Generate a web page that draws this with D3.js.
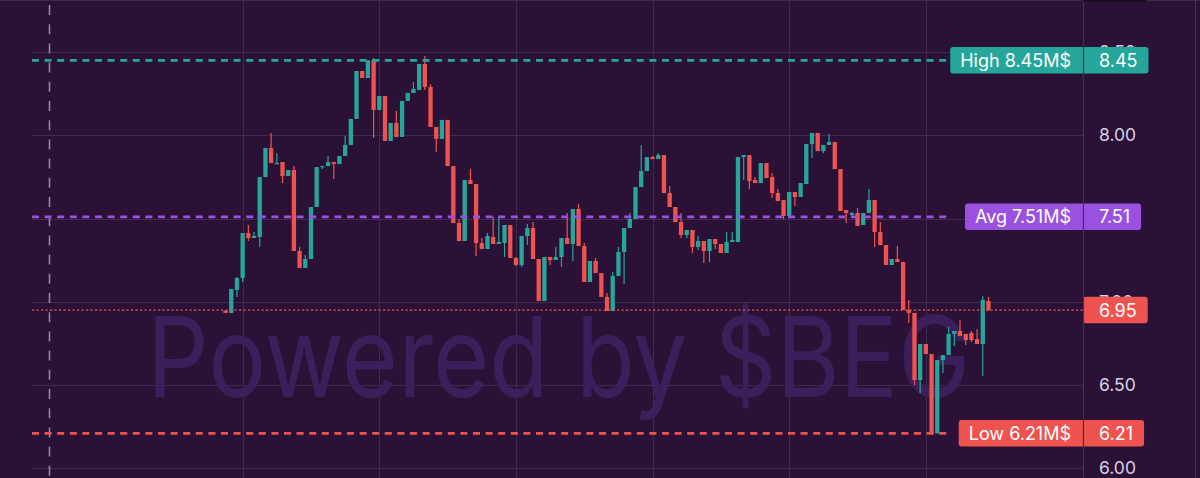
<!DOCTYPE html>
<html><head><meta charset="utf-8">
<script src="https://cdn.jsdelivr.net/npm/d3@7"></script>
<style>html,body{margin:0;padding:0;background:#2b1136;overflow:hidden}svg{display:block}</style>
</head><body>
<svg id="c" width="1200" height="478"></svg>
<script>
// ---- DATA ----
const opens = [6.945,6.933,7.071,7.143,7.413,7.383,7.389,7.749,7.923,7.827,
7.839,7.755,7.791,7.305,7.203,7.257,7.569,7.809,7.815,7.839,
7.827,7.875,7.942,8.098,8.386,8.344,8.45,8.152,8.236,7.966,
8.074,7.990,8.206,8.254,8.272,8.428,8.290,8.050,7.978,8.092,
7.815,7.473,7.365,7.731,7.707,7.353,7.317,7.389,7.347,7.353,
7.461,7.263,7.221,7.395,7.443,7.257,7.005,7.269,7.251,7.269,
7.383,7.347,7.557,7.335,7.119,7.245,7.173,7.029,6.945,7.155,
7.299,7.443,7.497,7.689,7.785,7.869,7.857,7.881,7.653,7.569,
7.479,7.401,7.431,7.329,7.365,7.305,7.377,7.347,7.293,7.359,
7.359,7.869,7.881,7.731,7.713,7.833,7.749,7.653,7.611,7.515,
7.659,7.629,7.707,7.948,8.014,7.905,7.942,7.960,7.797,7.551,
7.521,7.533,7.461,7.533,7.611,7.419,7.341,7.221,7.257,7.239,
6.951,6.933,6.530,6.746,6.686,6.21,6.650,6.680,6.807,6.825,
6.807,6.813,6.776,6.746,7.005];
const closes = [6.933,7.077,7.143,7.413,7.383,7.395,7.749,7.923,7.833,7.833,
7.755,7.791,7.305,7.203,7.257,7.569,7.809,7.815,7.839,7.827,
7.875,7.942,8.098,8.386,8.344,8.45,8.152,8.236,7.966,8.074,
7.990,8.206,8.254,8.278,8.428,8.290,8.050,7.978,8.092,7.815,
7.473,7.365,7.731,7.707,7.353,7.317,7.395,7.347,7.359,7.461,
7.263,7.221,7.395,7.443,7.257,7.005,7.269,7.251,7.269,7.383,
7.347,7.557,7.335,7.119,7.245,7.173,7.029,6.945,7.155,7.299,
7.443,7.497,7.689,7.785,7.869,7.857,7.881,7.653,7.569,7.479,
7.401,7.431,7.329,7.365,7.305,7.377,7.347,7.293,7.359,7.371,
7.869,7.881,7.725,7.713,7.833,7.743,7.653,7.605,7.515,7.659,
7.629,7.713,7.948,8.014,7.905,7.942,7.960,7.797,7.545,7.533,
7.533,7.455,7.533,7.611,7.419,7.341,7.221,7.257,7.239,6.951,
6.933,6.530,6.746,6.686,6.21,6.650,6.680,6.807,6.825,6.794,
6.770,6.770,6.746,7.011,6.95];
const highs = [6.951,7.077,7.149,7.413,7.461,7.419,7.749,7.923,8.014,7.893,
7.839,7.791,7.815,7.329,7.281,7.569,7.809,7.815,7.875,7.839,
7.875,7.996,8.098,8.386,8.386,8.45,8.464,8.236,8.236,8.074,
8.146,8.206,8.254,8.320,8.428,8.476,8.308,8.050,8.092,8.092,
7.815,7.497,7.731,7.797,7.707,7.383,7.413,7.509,7.509,7.461,
7.461,7.269,7.395,7.467,7.479,7.257,7.269,7.269,7.329,7.383,
7.533,7.557,7.587,7.353,7.245,7.263,7.173,7.053,7.179,7.329,
7.443,7.533,7.689,7.942,7.869,7.875,7.893,7.881,7.695,7.569,
7.533,7.431,7.431,7.395,7.365,7.377,7.377,7.347,7.419,7.419,
7.869,7.881,7.881,7.749,7.833,7.833,7.773,7.677,7.611,7.659,
7.659,7.713,7.948,8.014,8.014,7.942,8.008,7.960,7.797,7.551,
7.539,7.563,7.533,7.677,7.611,7.479,7.341,7.257,7.335,7.239,
7.011,6.933,6.746,6.746,6.686,6.650,6.680,6.849,6.825,6.891,
6.807,6.825,6.837,7.035,7.029];
const lows = [6.933,6.933,7.029,7.119,7.365,7.383,7.329,7.749,7.833,7.827,
7.713,7.755,7.305,7.203,7.203,7.257,7.569,7.797,7.815,7.737,
7.827,7.875,7.942,8.098,8.344,8.344,7.984,8.152,7.966,7.966,
7.990,7.990,8.206,8.254,8.272,8.272,8.050,7.899,7.978,7.815,
7.473,7.365,7.365,7.707,7.275,7.317,7.317,7.347,7.347,7.269,
7.263,7.215,7.209,7.341,7.257,7.005,7.005,7.221,7.251,7.209,
7.347,7.245,7.335,7.119,7.119,7.173,7.029,6.945,6.945,7.155,
7.107,7.443,7.497,7.689,7.785,7.857,7.857,7.653,7.569,7.479,
7.383,7.383,7.293,7.311,7.233,7.239,7.317,7.293,7.293,7.359,
7.359,7.731,7.677,7.713,7.713,7.743,7.623,7.605,7.497,7.515,
7.575,7.629,7.707,7.863,7.905,7.893,7.942,7.797,7.545,7.473,
7.515,7.455,7.461,7.533,7.329,7.341,7.221,7.221,7.239,6.951,
6.873,6.500,6.452,6.686,6.21,6.21,6.572,6.680,6.734,6.794,
6.740,6.758,6.746,6.554,6.945];
const yTicks = [6.00, 6.50, 7.00, 7.50, 8.00, 8.50];
const levels = [
  {name: "High", value: 8.45, color: "#26a69a"},
  {name: "Avg",  value: 7.51, color: "#9b51e0"},
  {name: "Low",  value: 6.21, color: "#ef5350"}
];
const lastPrice = 6.95;
const unit = "M$";
const watermark = "Powered by $BEG";

// ---- STYLE ----
const W = 1200, H = 478;
const plotL = 32, plotR = 1083;
const UP = "#26a69a", DOWN = "#ef5350";
const BG = "#2b1136", GRID = "#3e2a50";
const FONT = "Inter, 'Noto Sans', sans-serif";

const svg = d3.select("#c");
const n = opens.length;
const candles = d3.range(n).map(i => ({i, o: opens[i], c: closes[i], h: highs[i], l: lows[i]}));

const y = d3.scaleLinear().domain([6.0, 8.5]).range([468.3, 52]);
const x = d3.scaleLinear().domain([-34, 150.6]).range([plotL, plotR]);
const bodyW = 4.3;

svg.append("rect").attr("width", W).attr("height", H).attr("fill", BG);
svg.append("line").attr("x1", 0).attr("x2", W).attr("y1", 0.5).attr("y2", 0.5).attr("stroke", "#3a2848");

// grid
const g = svg.append("g");
g.selectAll(".hg").data(yTicks).join("line")
  .attr("x1", plotL).attr("x2", plotR)
  .attr("y1", d => Math.round(y(d)) + 0.5).attr("y2", d => Math.round(y(d)) + 0.5)
  .attr("stroke", GRID).attr("stroke-width", 1);
const vIdx = d3.range(3, 140, 24);
g.selectAll(".vg").data(vIdx).join("line")
  .attr("x1", d => Math.round(x(d)) + 0.5).attr("x2", d => Math.round(x(d)) + 0.5)
  .attr("y1", 0).attr("y2", H)
  .attr("stroke", GRID).attr("stroke-width", 1);

// watermark
svg.append("text").attr("x", (plotL + plotR) / 2 + 1).attr("y", 397)
  .attr("text-anchor", "middle").attr("font-family", FONT).attr("font-size", 112)
  .attr("textLength", 823).attr("lengthAdjust", "spacingAndGlyphs")
  .attr("fill", "#3b1f5a").text(watermark);

// crosshair
svg.append("line").attr("x1", 49.5).attr("x2", 49.5).attr("y1", 5).attr("y2", H)
  .attr("stroke", "#9384a8").attr("stroke-width", 1.6).attr("stroke-dasharray", "10 9.2");

// candles
const cg = svg.append("g");
cg.selectAll(".w").data(candles).join("line")
  .attr("x1", d => x(d.i)).attr("x2", d => x(d.i))
  .attr("y1", d => y(d.h)).attr("y2", d => y(d.l))
  .attr("stroke", d => d.c < d.o ? DOWN : UP).attr("stroke-width", 1.2);
cg.selectAll(".b").data(candles).join("rect")
  .attr("x", d => x(d.i) - bodyW / 2).attr("width", bodyW)
  .attr("y", d => y(Math.max(d.o, d.c)))
  .attr("height", d => Math.max(1.2, Math.abs(y(d.o) - y(d.c))))
  .attr("fill", d => d.c < d.o ? DOWN : UP);

// level lines
levels.forEach(lv => {
  svg.append("line").attr("x1", plotL).attr("x2", 950)
    .attr("y1", y(lv.value)).attr("y2", y(lv.value))
    .attr("stroke", lv.color).attr("stroke-width", 2.8).attr("stroke-dasharray", "7 5.6");
});
svg.append("line").attr("x1", plotL).attr("x2", plotR)
  .attr("y1", y(lastPrice)).attr("y2", y(lastPrice))
  .attr("stroke", DOWN).attr("stroke-width", 1.4).attr("stroke-dasharray", "2.2 2.3");

// y axis tick labels
const axis = d3.axisRight(y).tickValues(yTicks).tickFormat(d3.format(".2f")).tickSize(0).tickPadding(16);
const ag = svg.append("g").attr("transform", `translate(${plotR},0)`).call(axis);
ag.select(".domain").remove();
ag.selectAll("text").attr("font-family", FONT).attr("font-size", 17.5).attr("fill", "#d8cfe2");

// label boxes
const fmt = d3.format(".2f");
const boxH = 26.5;
function priceBox(value, color, label) {
  const cy = y(value);
  const grp = svg.append("g");
  const pt = grp.append("text").attr("x", plotR + 16).attr("y", cy + 6.4)
    .attr("font-family", FONT).attr("font-size", 18).attr("fill", "#ffffff").text(fmt(value));
  const pw = pt.node().getComputedTextLength();
  let left = plotR;
  if (label) {
    const lt = grp.append("text").attr("x", plotR - 12).attr("y", cy + 6.4).attr("text-anchor", "end")
      .attr("font-family", FONT).attr("font-size", 18).attr("fill", "#ffffff").text(label);
    const lw = lt.node().getComputedTextLength();
    left = plotR - 12 - lw - 10;
  }
  grp.insert("rect", "text").attr("x", left).attr("y", cy - boxH / 2)
    .attr("width", plotR + 16 + pw + 11 - left).attr("height", boxH)
    .attr("rx", 3).attr("fill", color);
}
levels.forEach(lv => priceBox(lv.value, lv.color, `${lv.name} ${fmt(lv.value)}${unit}`));
priceBox(lastPrice, DOWN, null);

// axis line and frame bits
svg.append("line").attr("x1", plotR + 0.5).attr("x2", plotR + 0.5).attr("y1", 0).attr("y2", H)
  .attr("stroke", "#3d3653").attr("stroke-width", 1.2);
svg.append("rect").attr("x", plotR).attr("y", 0).attr("width", 64).attr("height", 2).attr("fill", "#1b0d22");
svg.append("line").attr("x1", 1195.5).attr("x2", 1195.5).attr("y1", 0).attr("y2", H)
  .attr("stroke", "#45354f").attr("stroke-width", 1);
</script>
</body></html>
